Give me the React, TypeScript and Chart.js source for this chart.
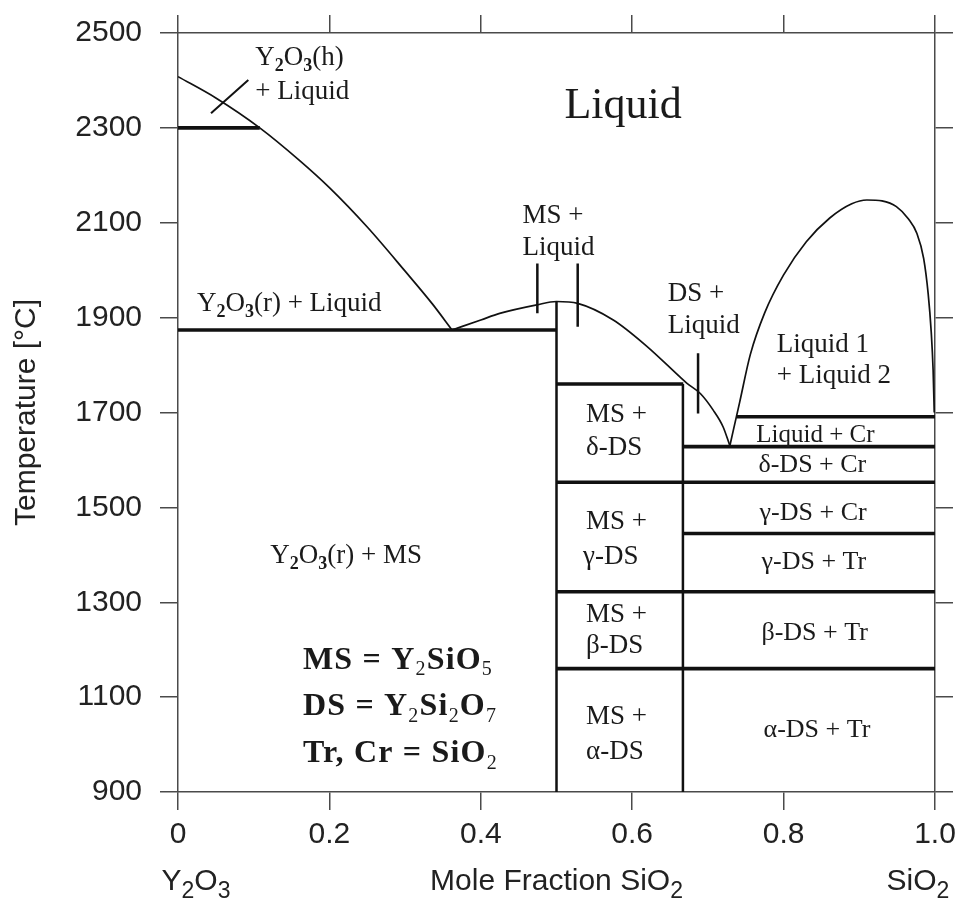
import React, { useEffect, useRef } from "react";
import Chart from "chart.js/auto";

// ---- Axis ticks ----
const xTickValues = [0, 0.2, 0.4, 0.6, 0.8, 1.0];
const xTickLabels = ["0", "0.2", "0.4", "0.6", "0.8", "1.0"];
const yTickValues = [900, 1100, 1300, 1500, 1700, 1900, 2100, 2300, 2500];
const yTickLabels = ["900", "1100", "1300", "1500", "1700", "1900", "2100", "2300", "2500"];

// ---- Liquidus curves (mole fraction SiO2, temperature °C) ----
const y2o3LiquidusX = [0, 0.05, 0.108, 0.16, 0.2, 0.25, 0.3, 0.336, 0.362];
const y2o3LiquidusT = [2408, 2363, 2300, 2232, 2174, 2091, 1998, 1929, 1874];

const msLiquidusX = [0.362, 0.4, 0.425, 0.474, 0.5, 0.528, 0.575, 0.619, 0.663, 0.672, 0.69, 0.707, 0.72, 0.729];
const msLiquidusT = [1874, 1895, 1909, 1927, 1934, 1930, 1895, 1840, 1775, 1762, 1740, 1705, 1670, 1630];

const domeX = [0.729, 0.742, 0.756, 0.775, 0.8, 0.83, 0.861, 0.89, 0.91, 0.93, 0.949, 0.965, 0.976, 0.985, 0.991, 0.995, 0.9975, 0.999];
const domeT = [1630, 1722, 1822, 1910, 1990, 2060, 2110, 2140, 2148, 2146, 2134, 2108, 2078, 2025, 1950, 1870, 1790, 1700];

// ---- Invariant isotherms ----
const isothermT = [2300, 1874, 1760, 1691, 1628, 1553, 1445, 1322, 1160];
const isothermX0 = [0, 0, 0.5, 0.738, 0.667, 0.5, 0.667, 0.5, 0.5];
const isothermX1 = [0.108, 0.5, 0.6675, 1.0, 1.0, 1.0, 1.0, 1.0, 1.0];

// ---- Compound composition lines ----
const compoundX = [0.5, 0.667];
const compoundTopT = [1934, 1760];
const compoundBottomT = [900, 900];

// ---- Label pointer ticks ----
const pointerX0 = [0.0436, 0.4747, 0.528, 0.687];
const pointerT0 = [2331, 2014, 2014, 1825];
const pointerX1 = [0.0929, 0.4747, 0.528, 0.687];
const pointerT1 = [2401, 1909, 1881, 1698];

// ---- Region labels ("_x" = subscript x) ----
const regionLabels = [
  { text: "Liquid", x: 0.588, t: 2320, size: 44, align: "center" },
  { text: "Y_2O_3(h)", x: 0.102, t: 2433, size: 27, align: "left" },
  { text: "+ Liquid", x: 0.102, t: 2361, size: 27, align: "left" },
  { text: "Y_2O_3(r) + Liquid", x: 0.025, t: 1913, size: 27, align: "left" },
  { text: "MS +", x: 0.455, t: 2100, size: 27, align: "left" },
  { text: "Liquid", x: 0.455, t: 2032, size: 27, align: "left" },
  { text: "DS +", x: 0.647, t: 1934, size: 27, align: "left" },
  { text: "Liquid", x: 0.647, t: 1868, size: 27, align: "left" },
  { text: "Liquid 1", x: 0.791, t: 1828, size: 27, align: "left" },
  { text: "+ Liquid 2", x: 0.791, t: 1762, size: 27, align: "left" },
  { text: "Liquid + Cr", x: 0.842, t: 1638, size: 25, align: "center" },
  { text: "δ-DS + Cr", x: 0.838, t: 1575, size: 26, align: "center" },
  { text: "γ-DS + Cr", x: 0.839, t: 1473, size: 26, align: "center" },
  { text: "γ-DS + Tr", x: 0.84, t: 1371, size: 26, align: "center" },
  { text: "β-DS + Tr", x: 0.841, t: 1220, size: 26, align: "center" },
  { text: "α-DS + Tr", x: 0.844, t: 1016, size: 26, align: "center" },
  { text: "MS +", x: 0.539, t: 1680, size: 27, align: "left" },
  { text: "δ-DS", x: 0.539, t: 1610, size: 27, align: "left" },
  { text: "MS +", x: 0.539, t: 1455, size: 27, align: "left" },
  { text: "γ-DS", x: 0.535, t: 1381, size: 27, align: "left" },
  { text: "MS +", x: 0.539, t: 1259, size: 27, align: "left" },
  { text: "β-DS", x: 0.539, t: 1192, size: 27, align: "left" },
  { text: "MS +", x: 0.539, t: 1044, size: 27, align: "left" },
  { text: "α-DS", x: 0.539, t: 970, size: 27, align: "left" },
  { text: "Y_2O_3(r) + MS", x: 0.122, t: 1383, size: 27, align: "left" },
];

const legendLines = ["MS = Y_2SiO_5", "DS = Y_2Si_2O_7", "Tr, Cr = SiO_2"];
const legendT = [1160, 1062, 963];
const legendX = 0.165;

const SERIF = '"Liberation Serif", "Times New Roman", serif';
const SANS = '"Liberation Sans", Arial, Helvetica, sans-serif';
const INK = "#1a1a1a";
const FRAME = "#4a4a4a";

type Seg = { t: string; sub: boolean };
function parseRich(text: string): Seg[] {
  const segs: Seg[] = [];
  for (let i = 0; i < text.length; i++) {
    if (text[i] === "_" && i + 1 < text.length) {
      segs.push({ t: text[i + 1], sub: true });
      i++;
    } else {
      const last = segs[segs.length - 1];
      if (last && !last.sub) last.t += text[i];
      else segs.push({ t: text[i], sub: false });
    }
  }
  return segs;
}

function drawRich(
  ctx: CanvasRenderingContext2D,
  text: string,
  x: number,
  y: number,
  size: number,
  family: string,
  weight: string,
  align: string,
  subScale = 0.65,
  subDrop = 0.22,
  subWeight = "bold",
  spacing = 0
) {
  const segs = parseRich(text);
  const mainFont = `${weight} ${size}px ${family}`;
  const subFont = `${subWeight} ${Math.round(size * subScale)}px ${family}`;
  const anyCtx = ctx as any;
  anyCtx.letterSpacing = `${spacing}px`;
  let total = 0;
  const widths: number[] = [];
  for (const s of segs) {
    ctx.font = s.sub ? subFont : mainFont;
    const w = ctx.measureText(s.t).width;
    widths.push(w);
    total += w;
  }
  let cx = x;
  if (align === "center") cx = x - total / 2;
  else if (align === "right") cx = x - total;
  ctx.textAlign = "left";
  ctx.textBaseline = "alphabetic";
  segs.forEach((s, i) => {
    ctx.font = s.sub ? subFont : mainFont;
    ctx.fillText(s.t, cx, s.sub ? y + size * subDrop : y);
    cx += widths[i];
  });
  anyCtx.letterSpacing = "0px";
}

const textPlugin = {
  id: "phaseText",
  afterDatasetsDraw(chart: any) {
    const ctx: CanvasRenderingContext2D = chart.ctx;
    const xs = chart.scales.x;
    const ys = chart.scales.y;
    ctx.save();
    ctx.fillStyle = INK;
    for (const l of regionLabels) {
      drawRich(ctx, l.text, xs.getPixelForValue(l.x), ys.getPixelForValue(l.t), l.size, SERIF, "normal", l.align);
    }
    legendLines.forEach((txt, i) => {
      drawRich(ctx, txt, xs.getPixelForValue(legendX), ys.getPixelForValue(legendT[i]), 32, SERIF, "bold", "left", 0.62, 0.2, "normal", 1.2);
    });
    ctx.restore();
  },
  afterDraw(chart: any) {
    const ctx: CanvasRenderingContext2D = chart.ctx;
    const xs = chart.scales.x;
    const ca = chart.chartArea;
    ctx.save();
    ctx.fillStyle = "#222";
    // y title
    ctx.save();
    ctx.translate(35, (ca.top + ca.bottom) / 2);
    ctx.rotate(-Math.PI / 2);
    ctx.font = `30px ${SANS}`;
    ctx.textAlign = "center";
    ctx.textBaseline = "alphabetic";
    ctx.fillText("Temperature [°C]", 0, 0);
    ctx.restore();
    // bottom titles
    const base = 890;
    drawRich(ctx, "Y_2O_3", xs.getPixelForValue(0) + 18, base, 30, SANS, "normal", "center", 0.75, 0.27, "normal");
    drawRich(ctx, "Mole Fraction SiO_2", (ca.left + ca.right) / 2, base, 30, SANS, "normal", "center", 0.75, 0.27, "normal");
    drawRich(ctx, "SiO_2", xs.getPixelForValue(1) - 17, base, 30, SANS, "normal", "center", 0.75, 0.27, "normal");
    ctx.restore();
  },
};

function seg(x0: number, t0: number, x1: number, t1: number, width: number) {
  return {
    data: [
      { x: x0, y: t0 },
      { x: x1, y: t1 },
    ],
    showLine: true,
    borderColor: "#111",
    borderWidth: width,
    pointRadius: 0,
    tension: 0,
    xAxisID: "x",
    yAxisID: "y",
  };
}

function curve(xs: number[], ts: number[], width: number) {
  return {
    data: xs.map((x, i) => ({ x, y: ts[i] })),
    showLine: true,
    borderColor: "#111",
    borderWidth: width,
    pointRadius: 0,
    cubicInterpolationMode: "monotone",
    xAxisID: "x",
    yAxisID: "y",
  };
}

export default function App() {
  const ref = useRef<HTMLCanvasElement | null>(null);
  useEffect(() => {
    if (!ref.current) return;
    const datasets: any[] = [];
    datasets.push(curve(y2o3LiquidusX, y2o3LiquidusT, 1.7));
    datasets.push(curve(msLiquidusX, msLiquidusT, 1.7));
    datasets.push(curve(domeX, domeT, 1.7));
    isothermT.forEach((t, i) => datasets.push(seg(isothermX0[i], t, isothermX1[i], t, 3.6)));
    compoundX.forEach((x, i) => datasets.push(seg(x, compoundTopT[i], x, compoundBottomT[i], 2.5)));
    pointerX0.forEach((x, i) => datasets.push(seg(x, pointerT0[i], pointerX1[i], pointerT1[i], i === 0 ? 2 : 2.5)));

    const grid = {
      drawOnChartArea: false,
      drawTicks: true,
      tickLength: 18,
      color: FRAME,
      lineWidth: 1.5,
    };
    const border = { display: true, color: FRAME, width: 1.5 };

    const chart = new Chart(ref.current, {
      type: "scatter",
      data: { datasets },
      plugins: [textPlugin],
      options: {
        responsive: false,
        animation: false,
        layout: { padding: 0 },
        plugins: { legend: { display: false }, tooltip: { enabled: false } },
        scales: {
          x: {
            type: "linear",
            position: "bottom",
            min: 0,
            max: 1,
            afterBuildTicks: (s: any) => {
              s.ticks = xTickValues.map((v) => ({ value: v }));
            },
            afterFit: (s: any) => {
              s.height = 109;
            },
            ticks: {
              callback: (_v: any, i: number) => xTickLabels[i],
              font: { family: SANS, size: 30, lineHeight: 1.4 },
              color: "#222",
              padding: 4,
              maxRotation: 0,
              autoSkip: false,
            },
            grid,
            border,
          },
          xTop: {
            type: "linear",
            position: "top",
            min: 0,
            max: 1,
            afterBuildTicks: (s: any) => {
              s.ticks = xTickValues.map((v) => ({ value: v }));
            },
            afterFit: (s: any) => {
              s.height = 33;
            },
            ticks: { display: false },
            grid,
            border,
          },
          y: {
            type: "linear",
            position: "left",
            min: 900,
            max: 2500,
            afterBuildTicks: (s: any) => {
              s.ticks = yTickValues.map((v) => ({ value: v }));
            },
            afterFit: (s: any) => {
              s.width = 178;
            },
            ticks: {
              callback: (_v: any, i: number) => yTickLabels[i],
              font: { family: SANS, size: 30, lineHeight: 0.9 },
              color: "#222",
              padding: 18,
              autoSkip: false,
            },
            grid,
            border,
          },
          yRight: {
            type: "linear",
            position: "right",
            min: 900,
            max: 2500,
            afterBuildTicks: (s: any) => {
              s.ticks = yTickValues.map((v) => ({ value: v }));
            },
            afterFit: (s: any) => {
              s.width = 26;
            },
            ticks: { display: false },
            grid,
            border,
          },
        },
      } as any,
    });
    return () => chart.destroy();
  }, []);

  return (
    <div style={{ position: "absolute", left: 0, top: 0, width: 961, height: 901, background: "#fff" }}>
      <canvas ref={ref} width={961} height={901} style={{ display: "block" }} />
    </div>
  );
}
